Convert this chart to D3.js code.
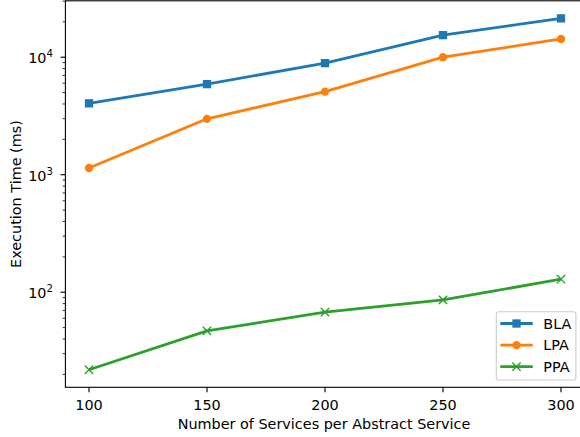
<!DOCTYPE html>
<html><head><meta charset="utf-8">
<script src="https://cdn.jsdelivr.net/npm/d3@7"></script>
<style>
html,body{margin:0;padding:0;background:#fff;}
svg{display:block;font-family:"DejaVu Sans",sans-serif;}
</style></head>
<body><svg id="chart" width="580" height="437"></svg>
<script>
const categories = [100, 150, 200, 250, 300];
const BLA = [4050, 5900, 8900, 15400, 21400];
const LPA = [1140, 2990, 5100, 10000, 14300];
const PPA = [21.9, 46.9, 67.6, 86, 129];
const seriesNames = ["BLA", "LPA", "PPA"];
const xTicks = [100, 150, 200, 250, 300];
const yMajor = [100, 1000, 10000];

const colors = {BLA: "#1f77b4", LPA: "#ff7f0e", PPA: "#2ca02c"};
const markers = {BLA: "square", LPA: "circle", PPA: "x"};
const series = [
  {name: "BLA", values: BLA},
  {name: "LPA", values: LPA},
  {name: "PPA", values: PPA}
];

const svg = d3.select("#chart");
const L = 65.4, R = 584.6, T = 0.8, B = 387.3;

const xmin = d3.min(categories), xmax = d3.max(categories);
const xpad = (xmax - xmin) * 0.05;
const x = d3.scaleLinear().domain([xmin - xpad, xmax + xpad]).range([L, R]);

const all = [].concat(BLA, LPA, PPA);
const lo = Math.log10(d3.min(all)), hi = Math.log10(d3.max(all));
const lp = (hi - lo) * 0.05;
const y = d3.scaleLog().domain([Math.pow(10, lo - lp), Math.pow(10, hi + lp)]).range([B, T]);

const fs = 14.4;
const tickColor = "#000";

// spines
svg.append("rect").attr("x", L).attr("y", T).attr("width", R - L).attr("height", B - T)
  .attr("fill", "none").attr("stroke", "#000").attr("stroke-width", 1.1);

// x ticks
const gx = svg.append("g");
xTicks.forEach(v => {
  const px = x(v);
  gx.append("line").attr("x1", px).attr("x2", px).attr("y1", B).attr("y2", B + 4.9)
    .attr("stroke", tickColor).attr("stroke-width", 1.1);
  gx.append("text").attr("x", px).attr("y", B + 22.6).attr("text-anchor", "middle")
    .attr("font-size", fs).attr("fill", "#000").text(v);
});

// y ticks
const gy = svg.append("g");
const [d0, d1] = y.domain();
for (let e = Math.floor(Math.log10(d0)); e <= Math.ceil(Math.log10(d1)); e++) {
  for (let m = 1; m <= 9; m++) {
    const v = m * Math.pow(10, e);
    if (v < d0 || v > d1) continue;
    const py = y(v);
    const major = m === 1;
    gy.append("line").attr("x1", L).attr("x2", L - (major ? 4.9 : 2.8)).attr("y1", py).attr("y2", py)
      .attr("stroke", tickColor).attr("stroke-width", major ? 1.1 : 0.8);
    if (major && yMajor.includes(v)) {
      const t = gy.append("text").attr("x", L - 12.5).attr("y", py + 5.9)
        .attr("text-anchor", "end").attr("font-size", fs).attr("fill", "#000");
      t.append("tspan").text("10");
      t.append("tspan").attr("dy", -6).attr("font-size", fs * 0.7).text(String(e));
    }
  }
}

// axis labels
svg.append("text").attr("x", (L + R) / 2 - 1).attr("y", 428.5).attr("text-anchor", "middle")
  .attr("font-size", fs).attr("fill", "#000").text("Number of Services per Abstract Service");
svg.append("text").attr("transform", `translate(21,${(T + B) / 2}) rotate(-90)`)
  .attr("text-anchor", "middle").attr("font-size", fs).attr("fill", "#000").text("Execution Time (ms)");

// lines
const line = d3.line().x((d, i) => x(categories[i])).y(d => y(d));
const ms = 8.3;
function drawMarker(g, type, cx, cy, color) {
  if (type === "square") {
    g.append("rect").attr("x", cx - ms / 2).attr("y", cy - ms / 2).attr("width", ms).attr("height", ms)
      .attr("fill", color);
  } else if (type === "circle") {
    g.append("circle").attr("cx", cx).attr("cy", cy).attr("r", ms / 2).attr("fill", color);
  } else {
    const h = ms / 2;
    g.append("path").attr("d", `M${cx - h},${cy - h}L${cx + h},${cy + h}M${cx - h},${cy + h}L${cx + h},${cy - h}`)
      .attr("stroke", color).attr("stroke-width", 1.4).attr("fill", "none");
  }
}
const plot = svg.append("g");
series.forEach(s => {
  const c = colors[s.name];
  plot.append("path").datum(s.values).attr("d", line).attr("fill", "none")
    .attr("stroke", c).attr("stroke-width", 2.8).attr("stroke-linejoin", "round").attr("stroke-linecap", "butt");
  s.values.forEach((v, i) => drawMarker(plot, markers[s.name], x(categories[i]), y(v), c));
});

// legend
const lg = svg.append("g");
const lx = 496.3, ly = 311.7, lw = 79.6, lh = 68.3;
lg.append("rect").attr("x", lx).attr("y", ly).attr("width", lw).attr("height", lh).attr("rx", 2.8)
  .attr("fill", "#fff").attr("fill-opacity", 0.8).attr("stroke", "#ccc").attr("stroke-width", 1.1);
seriesNames.forEach((n, i) => {
  const cy = ly + 11.8 + i * 21.6;
  const c = colors[n];
  lg.append("line").attr("x1", lx + 4).attr("x2", lx + 36.5).attr("y1", cy).attr("y2", cy)
    .attr("stroke", c).attr("stroke-width", 2.8);
  drawMarker(lg, markers[n], lx + 20.2, cy, c);
  lg.append("text").attr("x", lx + 47).attr("y", cy + 5.2).attr("font-size", fs).attr("fill", "#000").text(n);
});
</script></body></html>
